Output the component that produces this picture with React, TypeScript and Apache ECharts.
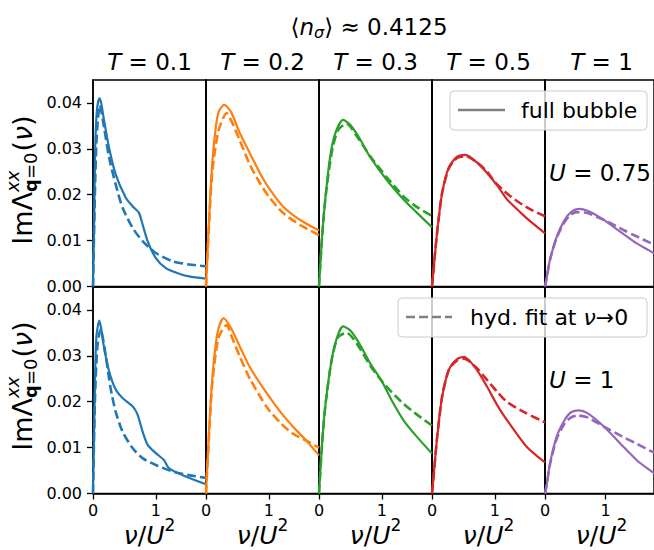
import React, { useEffect, useRef } from "react";
import * as echarts from "echarts";

// ---------- data ----------
const temperatureLabels = ["0.1", "0.2", "0.3", "0.5", "1"];
const couplingLabels = ["0.75", "1"];
const seriesColors = ["#1f77b4", "#ff7f0e", "#2ca02c", "#d62728", "#9467bd"];
const yTickValues = [0, 0.01, 0.02, 0.03, 0.04];
const xTickValues = [0, 1];
const xMax = 1.8;
const yMax = 0.045;

// U = 0.75 (top row): [nu/U^2, Im Lambda]
const fullT01U075 = [[0, 0], [0.02, 0.016], [0.035, 0.03], [0.06, 0.038], [0.1, 0.041], [0.13, 0.04], [0.176, 0.0362], [0.255, 0.0303], [0.36, 0.0245], [0.52, 0.0194], [0.63, 0.0175], [0.73, 0.0161], [0.79, 0.0135], [0.87, 0.0099], [1.0, 0.0062], [1.16, 0.004], [1.35, 0.0029], [1.53, 0.0022], [1.8, 0.0017]];
const hydT01U075 = [[0, 0], [0.03, 0.02], [0.06, 0.033], [0.11, 0.0395], [0.176, 0.0347], [0.255, 0.0282], [0.36, 0.0223], [0.47, 0.0172], [0.63, 0.0128], [0.79, 0.0099], [1.0, 0.0073], [1.27, 0.0055], [1.53, 0.0048], [1.8, 0.0044]];
const fullT02U075 = [[0, 0], [0.05, 0.015], [0.1, 0.027], [0.15, 0.034], [0.2, 0.038], [0.29, 0.0396], [0.4, 0.038], [0.54, 0.0334], [0.7, 0.029], [0.86, 0.0247], [1.0, 0.0215], [1.23, 0.0174], [1.5, 0.0145], [1.8, 0.0122]];
const hydT02U075 = [[0, 0], [0.05, 0.014], [0.1, 0.025], [0.2, 0.034], [0.33, 0.0378], [0.4, 0.0362], [0.54, 0.0318], [0.7, 0.0265], [0.86, 0.0225], [1.0, 0.0196], [1.23, 0.016], [1.5, 0.0134], [1.8, 0.0112]];
const fullT03U075 = [[0, 0], [0.05, 0.011], [0.1, 0.019], [0.17, 0.0276], [0.25, 0.033], [0.385, 0.0363], [0.5, 0.0352], [0.65, 0.0322], [0.81, 0.0283], [1.08, 0.0232], [1.35, 0.0189], [1.55, 0.0162], [1.8, 0.0129]];
const hydT03U075 = [[0, 0], [0.05, 0.011], [0.1, 0.019], [0.2, 0.029], [0.3, 0.034], [0.44, 0.0355], [0.6, 0.0328], [0.81, 0.0285], [1.08, 0.0238], [1.35, 0.0196], [1.55, 0.0174], [1.8, 0.0154]];
const fullT05U075 = [[0, 0], [0.04, 0.006], [0.08, 0.0116], [0.16, 0.0203], [0.27, 0.026], [0.4, 0.0283], [0.535, 0.0287], [0.7, 0.0272], [0.88, 0.0247], [1.05, 0.0218], [1.2, 0.0189], [1.42, 0.016], [1.6, 0.0138], [1.8, 0.0116]];
const hydT05U075 = [[0, 0], [0.04, 0.006], [0.08, 0.0116], [0.16, 0.0203], [0.27, 0.0258], [0.4, 0.028], [0.535, 0.0284], [0.7, 0.0272], [0.88, 0.025], [1.0, 0.0228], [1.2, 0.0202], [1.4, 0.0182], [1.6, 0.0166], [1.8, 0.0153]];
const fullT1U075 = [[0, 0], [0.03, 0.002], [0.08, 0.0057], [0.19, 0.0107], [0.32, 0.0144], [0.43, 0.0162], [0.56, 0.0169], [0.7, 0.0165], [0.94, 0.0148], [1.1, 0.0133], [1.31, 0.0113], [1.5, 0.0095], [1.74, 0.0077], [1.8, 0.0072]];
const hydT1U075 = [[0, 0], [0.03, 0.002], [0.08, 0.0057], [0.19, 0.0105], [0.32, 0.014], [0.43, 0.0157], [0.53, 0.0162], [0.7, 0.016], [0.94, 0.0147], [1.1, 0.0137], [1.31, 0.0122], [1.5, 0.011], [1.74, 0.0095], [1.8, 0.0091]];

// U = 1 (bottom row)
const fullT01U1 = [[0, 0], [0.03, 0.023], [0.053, 0.034], [0.1, 0.0377], [0.13, 0.036], [0.176, 0.0318], [0.255, 0.0267], [0.36, 0.0227], [0.47, 0.0208], [0.63, 0.019], [0.71, 0.0172], [0.79, 0.0135], [0.87, 0.0106], [1.0, 0.0088], [1.13, 0.0073], [1.21, 0.0055], [1.43, 0.004], [1.8, 0.002]];
const hydT01U1 = [[0, 0], [0.03, 0.02], [0.07, 0.032], [0.12, 0.0358], [0.2, 0.0303], [0.28, 0.023], [0.36, 0.0179], [0.47, 0.0135], [0.63, 0.0099], [0.79, 0.0077], [1.0, 0.0062], [1.27, 0.0048], [1.53, 0.004], [1.8, 0.0034]];
const fullT02U1 = [[0, 0], [0.05, 0.014], [0.1, 0.025], [0.15, 0.032], [0.2, 0.036], [0.28, 0.0382], [0.4, 0.036], [0.54, 0.032], [0.7, 0.0275], [0.97, 0.0218], [1.2, 0.0175], [1.39, 0.0145], [1.6, 0.0115], [1.8, 0.0083]];
const hydT02U1 = [[0, 0], [0.05, 0.013], [0.1, 0.024], [0.2, 0.034], [0.33, 0.0367], [0.4, 0.0345], [0.54, 0.0298], [0.7, 0.025], [0.97, 0.0188], [1.2, 0.0152], [1.39, 0.013], [1.6, 0.0115], [1.8, 0.01]];
const fullT03U1 = [[0, 0], [0.05, 0.011], [0.1, 0.019], [0.2, 0.029], [0.3, 0.0345], [0.385, 0.0364], [0.5, 0.0355], [0.65, 0.0325], [0.81, 0.0285], [1.0, 0.0245], [1.15, 0.0205], [1.35, 0.0159], [1.55, 0.0125], [1.8, 0.0087]];
const hydT03U1 = [[0, 0], [0.05, 0.011], [0.1, 0.019], [0.2, 0.029], [0.3, 0.034], [0.44, 0.035], [0.6, 0.0327], [0.81, 0.028], [1.0, 0.0245], [1.15, 0.0222], [1.35, 0.0195], [1.55, 0.0173], [1.8, 0.0148]];
const fullT05U1 = [[0, 0], [0.04, 0.006], [0.08, 0.012], [0.16, 0.021], [0.27, 0.027], [0.4, 0.0293], [0.51, 0.0298], [0.7, 0.0272], [0.88, 0.0232], [1.05, 0.019], [1.2, 0.0159], [1.52, 0.01], [1.8, 0.0068]];
const hydT05U1 = [[0, 0], [0.04, 0.006], [0.08, 0.012], [0.16, 0.021], [0.27, 0.027], [0.4, 0.029], [0.51, 0.0294], [0.7, 0.0275], [0.88, 0.0247], [1.05, 0.022], [1.2, 0.0199], [1.5, 0.0175], [1.8, 0.0155]];
const fullT1U1 = [[0, 0], [0.03, 0.002], [0.08, 0.0064], [0.19, 0.0123], [0.32, 0.0159], [0.43, 0.0177], [0.56, 0.0181], [0.7, 0.0175], [0.98, 0.0145], [1.25, 0.0108], [1.52, 0.0072], [1.74, 0.005], [1.8, 0.0045]];
const hydT1U1 = [[0, 0], [0.03, 0.002], [0.08, 0.0062], [0.19, 0.0118], [0.32, 0.0152], [0.43, 0.0166], [0.53, 0.017], [0.7, 0.0166], [0.98, 0.0145], [1.25, 0.0126], [1.52, 0.0108], [1.74, 0.0093], [1.8, 0.009]];

const fullBubble = [
  [fullT01U075, fullT02U075, fullT03U075, fullT05U075, fullT1U075],
  [fullT01U1, fullT02U1, fullT03U1, fullT05U1, fullT1U1],
];
const hydFit = [
  [hydT01U075, hydT02U075, hydT03U075, hydT05U075, hydT1U075],
  [hydT01U1, hydT02U1, hydT03U1, hydT05U1, hydT1U1],
];

// ---------- layout ----------
const FONT = "DejaVu Sans";
const colLeft = [93, 206, 319, 432, 545];
const panelW = 113;
const rowTop = [80, 287];
const panelH = 206.5;

let measureCtx: CanvasRenderingContext2D | null = null;
function textWidth(t: string, size: number, italic = false, bold = false) {
  if (!measureCtx) measureCtx = document.createElement("canvas").getContext("2d");
  measureCtx!.font = `${italic ? "italic " : ""}${bold ? "bold " : ""}${size}px "${FONT}"`;
  return measureCtx!.measureText(t).width;
}

type Seg = { t: string; size: number; italic?: boolean; bold?: boolean; dy?: number; stack?: boolean; endStack?: boolean; gap?: number };

function mathText(segs: Seg[], x0: number, y0: number, align: "left" | "center", z = 50): any[] {
  const placed: { seg: Seg; x: number }[] = [];
  let x = 0;
  let stackStart: number | null = null;
  let stackW = 0;
  for (const seg of segs) {
    const w = textWidth(seg.t, seg.size, seg.italic, seg.bold);
    if (seg.stack) {
      stackStart = x;
      stackW = w;
      placed.push({ seg, x });
      continue;
    }
    placed.push({ seg, x });
    x += w;
    if (seg.endStack && stackStart !== null) {
      x = Math.max(x, stackStart + stackW);
      stackStart = null;
    }
    x += seg.gap || 0;
  }
  const off = align === "center" ? -x / 2 : 0;
  return placed.map(({ seg, x: px }) => ({
    type: "text",
    x: x0 + off + px,
    y: y0 + (seg.dy || 0),
    z,
    silent: true,
    style: {
      text: seg.t,
      fontSize: seg.size,
      fontFamily: FONT,
      fontStyle: seg.italic ? "italic" : "normal",
      fontWeight: seg.bold ? "bold" : "normal",
      fill: "#000",
      align: "left",
      verticalAlign: "middle",
      textAlign: "left",
      textVerticalAlign: "middle",
    },
  }));
}

function buildOption(): any {
  const grids: any[] = [];
  const xAxes: any[] = [];
  const yAxes: any[] = [];
  const series: any[] = [];
  for (let r = 0; r < 2; r++) {
    for (let c = 0; c < 5; c++) {
      const k = r * 5 + c;
      grids.push({
        left: colLeft[c],
        top: rowTop[r],
        width: panelW,
        height: panelH,
        show: true,
        borderColor: "#000",
        borderWidth: 1.5,
        backgroundColor: "transparent",
        containLabel: false,
      });
      xAxes.push({
        type: "value",
        gridIndex: k,
        min: 0,
        max: xMax,
        interval: 1,
        axisLine: { show: true, onZero: false, lineStyle: { color: "#000", width: 1.5 } },
        splitLine: { show: false },
        axisTick: { show: r === 1, inside: false, length: 6, lineStyle: { color: "#000", width: 1.3 }, customValues: xTickValues },
        axisLabel: { show: r === 1, customValues: xTickValues, fontSize: 16, fontFamily: FONT, color: "#000", margin: 9, formatter: (v: number) => String(v) },
      });
      yAxes.push({
        type: "value",
        gridIndex: k,
        min: 0,
        max: yMax,
        interval: 0.01,
        axisLine: { show: true, onZero: false, lineStyle: { color: "#000", width: 1.5 } },
        splitLine: { show: false },
        axisTick: { show: c === 0, inside: false, length: 6, lineStyle: { color: "#000", width: 1.3 }, customValues: yTickValues },
        axisLabel: { show: c === 0, customValues: yTickValues, fontSize: 16, fontFamily: FONT, color: "#000", margin: 11, formatter: (v: number) => v.toFixed(2) },
      });
      series.push({
        type: "line",
        xAxisIndex: k,
        yAxisIndex: k,
        data: fullBubble[r][c],
        showSymbol: false,
        symbol: "none",
        smooth: 0.25,
        silent: true,
        clip: true,
        lineStyle: { color: seriesColors[c], width: 2.2 },
        z: 3,
      });
      series.push({
        type: "line",
        xAxisIndex: k,
        yAxisIndex: k,
        data: hydFit[r][c],
        showSymbol: false,
        symbol: "none",
        smooth: 0.25,
        silent: true,
        clip: true,
        lineStyle: { color: seriesColors[c], width: 2.6, type: [9, 4] },
        z: 3,
      });
    }
  }

  const graphics: any[] = [];
  // main title
  graphics.push(
    ...mathText(
      [
        { t: "⟨", size: 23 },
        { t: "n", size: 23, italic: true },
        { t: "σ", size: 16, italic: true, dy: 5 },
        { t: "⟩", size: 23 },
        { t: " ≈ ", size: 23 },
        { t: "0.4125", size: 23 },
      ],
      369,
      27,
      "center"
    )
  );
  // column titles and x labels
  for (let c = 0; c < 5; c++) {
    const cx = colLeft[c] + panelW / 2;
    graphics.push(
      ...mathText(
        [
          { t: "T", size: 23, italic: true },
          { t: " = ", size: 23 },
          { t: temperatureLabels[c], size: 23 },
        ],
        cx,
        62,
        "center"
      )
    );
    graphics.push(
      ...mathText(
        [
          { t: "ν", size: 25, italic: true },
          { t: "/", size: 25 },
          { t: "U", size: 25, italic: true },
          { t: "2", size: 17, dy: -10 },
        ],
        cx,
        535,
        "center"
      )
    );
  }
  // U labels
  const uY = [173, 380];
  for (let r = 0; r < 2; r++) {
    graphics.push(
      ...mathText(
        [
          { t: "U", size: 23, italic: true },
          { t: " = " + couplingLabels[r], size: 23 },
        ],
        549,
        uY[r],
        "left"
      )
    );
  }
  // y labels (rotated)
  const yLabelY = [180, 386];
  for (let r = 0; r < 2; r++) {
    graphics.push({
      type: "group",
      x: 22,
      y: yLabelY[r],
      rotation: Math.PI / 2,
      children: mathText(
        [
          { t: "Im", size: 27 },
          { t: "Λ", size: 27 },
          { t: "xx", size: 18, italic: true, dy: -10, stack: true },
          { t: "q", size: 18, bold: true, dy: 8 },
          { t: "=0", size: 18, dy: 8, endStack: true, gap: 1 },
          { t: "(", size: 27 },
          { t: "ν", size: 27, italic: true },
          { t: ")", size: 27 },
        ],
        0,
        0,
        "center"
      ),
    });
  }
  // legends
  graphics.push({
    type: "rect",
    z: 90,
    silent: true,
    shape: { x: 450, y: 91, width: 197, height: 39, r: 4 },
    style: { fill: "rgba(255,255,255,0.8)", stroke: "#cccccc", lineWidth: 1 },
  });
  graphics.push({
    type: "line",
    z: 91,
    silent: true,
    shape: { x1: 458, y1: 110, x2: 505, y2: 110 },
    style: { stroke: "#808080", lineWidth: 2.4 },
  });
  graphics.push(...mathText([{ t: "full bubble", size: 22 }], 521, 110, "left", 92));

  graphics.push({
    type: "rect",
    z: 90,
    silent: true,
    shape: { x: 398, y: 298, width: 249, height: 39, r: 4 },
    style: { fill: "rgba(255,255,255,0.8)", stroke: "#cccccc", lineWidth: 1 },
  });
  graphics.push({
    type: "line",
    z: 91,
    silent: true,
    shape: { x1: 406, y1: 317, x2: 452, y2: 317 },
    style: { stroke: "#808080", lineWidth: 2.6, lineDash: [9, 4] },
  });
  graphics.push(
    ...mathText(
      [
        { t: "hyd. fit at ", size: 22 },
        { t: "ν", size: 22, italic: true },
        { t: "→", size: 22 },
        { t: "0", size: 22 },
      ],
      470,
      317,
      "left",
      92
    )
  );

  return {
    animation: false,
    backgroundColor: "#ffffff",
    grid: grids,
    xAxis: xAxes,
    yAxis: yAxes,
    series,
    graphic: { elements: graphics },
  };
}

export default function App() {
  const ref = useRef<HTMLDivElement>(null);
  useEffect(() => {
    const chart = echarts.init(ref.current!, undefined, { renderer: "svg" });
    chart.setOption(buildOption());
    return () => chart.dispose();
  }, []);
  return (
    <div
      ref={ref}
      style={{ position: "absolute", left: 0, top: 0, width: 654, height: 550, background: "#fff" }}
    />
  );
}
